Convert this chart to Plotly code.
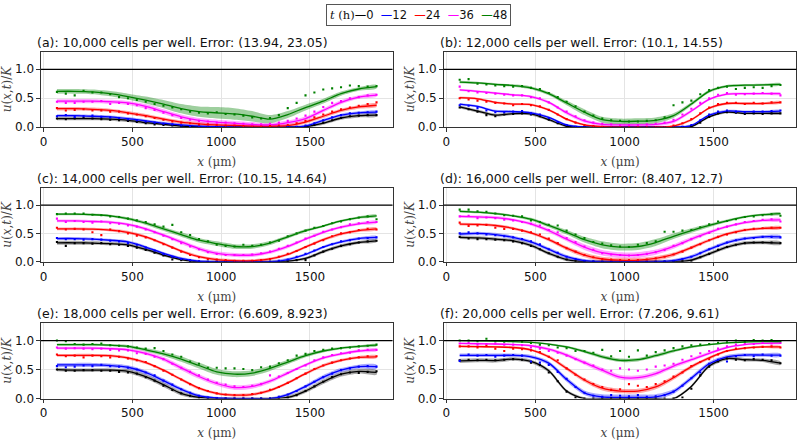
import numpy as np
import plotly.graph_objects as go
from plotly.subplots import make_subplots

# x positions (um): fitted curves every 100 um, measured densities every 50 um
X_LINE = [75, 175, 275, 375, 475, 575, 675, 775, 875, 975,
          1075, 1175, 1275, 1375, 1475, 1575, 1675, 1775, 1875]
X_DOTS = [75, 125, 175, 225, 275, 325, 375, 425, 475, 525,
          575, 625, 675, 725, 775, 825, 875, 925, 975, 1025,
          1075, 1125, 1175, 1225, 1275, 1325, 1375, 1425, 1475, 1525,
          1575, 1625, 1675, 1725, 1775, 1825, 1875]

TIMES = [0, 12, 24, 36, 48]
COLORS = {0: '#000000', 12: '#0000ff', 24: '#ff0000', 36: '#ff00ff', 48: '#008000'}
FILLS = {0: 'rgba(0,0,0,0.34)', 12: 'rgba(0,0,255,0.34)', 24: 'rgba(255,0,0,0.34)',
         36: 'rgba(255,0,255,0.34)', 48: 'rgba(0,128,0,0.38)'}

# ---- (a) 10,000 cells per well ----
a_lines = {
    0: [0.15, 0.15, 0.15, 0.14, 0.12, 0.08, 0.05, 0.02, 0.01, 0.0, 0.0, 0.0, 0.0, 0.0, 0.01, 0.07, 0.16, 0.20, 0.21],
    12: [0.20, 0.20, 0.19, 0.18, 0.15, 0.11, 0.07, 0.04, 0.02, 0.01, 0.005, 0.0, 0.0, 0.0, 0.02, 0.12, 0.21, 0.25, 0.26],
    24: [0.32, 0.32, 0.31, 0.29, 0.25, 0.20, 0.14, 0.09, 0.06, 0.04, 0.03, 0.02, 0.02, 0.03, 0.09, 0.19, 0.29, 0.35, 0.38],
    36: [0.45, 0.45, 0.45, 0.44, 0.42, 0.36, 0.27, 0.18, 0.12, 0.09, 0.07, 0.05, 0.04, 0.08, 0.15, 0.29, 0.43, 0.52, 0.555],
    48: [0.62, 0.62, 0.61, 0.58, 0.53, 0.47, 0.40, 0.32, 0.27, 0.25, 0.23, 0.19, 0.14, 0.22, 0.34, 0.45, 0.58, 0.66, 0.70],
}
a_dots = {
    0: [0.15, 0.14, 0.15, 0.16, 0.15, 0.14, 0.13, 0.12, 0.11, 0.09, 0.07, 0.05, 0.04, 0.03, 0.02, 0.01, 0.01, 0.0, 0.0, 0.0,
        0.0, 0.0, 0.0, 0.0, 0.0, 0.0, 0.0, 0.0, 0.01, 0.04, 0.08, 0.12, 0.16, 0.19, 0.20, 0.21, 0.21],
    12: [0.19, 0.21, 0.18, 0.19, 0.20, 0.18, 0.17, 0.16, 0.14, 0.12, 0.10, 0.08, 0.06, 0.05, 0.03, 0.02, 0.02, 0.01, 0.01, 0.01,
         0.0, 0.0, 0.0, 0.0, 0.0, 0.0, 0.01, 0.01, 0.03, 0.07, 0.12, 0.17, 0.21, 0.24, 0.25, 0.26, 0.27],
    24: [0.33, 0.29, 0.30, 0.31, 0.29, 0.29, 0.27, 0.27, 0.24, 0.22, 0.19, 0.16, 0.13, 0.10, 0.08, 0.07, 0.05, 0.05, 0.04, 0.03,
         0.03, 0.02, 0.02, 0.02, 0.02, 0.03, 0.04, 0.07, 0.11, 0.17, 0.22, 0.27, 0.31, 0.34, 0.37, 0.40, 0.43],
    36: [0.44, 0.42, 0.42, 0.44, 0.44, 0.45, 0.40, 0.42, 0.40, 0.38, 0.33, 0.30, 0.25, 0.21, 0.16, 0.13, 0.11, 0.10, 0.08, 0.08,
         0.07, 0.06, 0.05, 0.05, 0.06, 0.08, 0.11, 0.15, 0.20, 0.27, 0.35, 0.42, 0.45, 0.50, 0.52, 0.55, 0.56],
    48: [0.61, 0.58, 0.55, 0.63, 0.60, 0.60, 0.57, 0.52, 0.50, 0.47, 0.44, 0.40, 0.37, 0.34, 0.31, 0.27, 0.25, 0.24, 0.26, 0.23,
         0.22, 0.20, 0.17, 0.15, 0.16, 0.21, 0.33, 0.42, 0.55, 0.60, 0.65, 0.67, 0.69, 0.72, 0.71, 0.70, 0.71],
}
a_band = {
    0: [0.03, 0.03, 0.03, 0.03, 0.03, 0.03, 0.025, 0.02, 0.02, 0.02, 0.02, 0.02, 0.02, 0.02, 0.02, 0.025, 0.03, 0.03, 0.03],
    12: 0.025,
    24: 0.03,
    36: [0.035, 0.035, 0.035, 0.035, 0.035, 0.04, 0.04, 0.04, 0.04, 0.04, 0.04, 0.04, 0.035, 0.035, 0.035, 0.035, 0.035, 0.03, 0.03],
    48: [0.04, 0.04, 0.04, 0.045, 0.05, 0.06, 0.07, 0.08, 0.09, 0.1, 0.1, 0.09, 0.07, 0.06, 0.05, 0.04, 0.035, 0.03, 0.03],
}

# ---- (b) 12,000 cells per well ----
b_lines = {
    0: [0.35, 0.28, 0.21, 0.235, 0.23, 0.13, 0.02, 0.0, 0.0, 0.0, 0.0, 0.0, 0.0, 0.01, 0.18, 0.26, 0.24, 0.24, 0.24],
    12: [0.40, 0.36, 0.28, 0.27, 0.25, 0.17, 0.04, 0.0, 0.0, 0.0, 0.0, 0.0, 0.0, 0.03, 0.21, 0.28, 0.27, 0.27, 0.28],
    24: [0.51, 0.49, 0.43, 0.40, 0.39, 0.30, 0.14, 0.04, 0.01, 0.0, 0.0, 0.0, 0.02, 0.13, 0.33, 0.41, 0.41, 0.41, 0.43],
    36: [0.645, 0.62, 0.59, 0.56, 0.53, 0.43, 0.25, 0.11, 0.05, 0.04, 0.04, 0.05, 0.10, 0.28, 0.48, 0.57, 0.58, 0.58, 0.58],
    48: [0.78, 0.765, 0.74, 0.72, 0.68, 0.58, 0.42, 0.26, 0.13, 0.10, 0.105, 0.12, 0.20, 0.40, 0.62, 0.71, 0.725, 0.73, 0.74],
}
b_dots = {
    0: [0.34, 0.31, 0.27, 0.21, 0.19, 0.22, 0.23, 0.24, 0.22, 0.19, 0.13, 0.07, 0.02, 0.0, 0.0, 0.0, 0.0, 0.0, 0.0, 0.0,
        0.0, 0.0, 0.0, 0.0, 0.0, 0.0, 0.02, 0.08, 0.18, 0.24, 0.26, 0.25, 0.23, 0.24, 0.23, 0.24, 0.24],
    12: [0.38, 0.37, 0.33, 0.29, 0.26, 0.26, 0.27, 0.28, 0.24, 0.22, 0.16, 0.09, 0.04, 0.01, 0.0, 0.0, 0.0, 0.0, 0.0, 0.0,
         0.0, 0.0, 0.0, 0.0, 0.0, 0.01, 0.04, 0.12, 0.22, 0.27, 0.29, 0.27, 0.26, 0.27, 0.27, 0.28, 0.29],
    24: [0.50, 0.48, 0.46, 0.44, 0.42, 0.41, 0.38, 0.40, 0.38, 0.36, 0.30, 0.22, 0.14, 0.08, 0.04, 0.02, 0.01, 0.0, 0.0, 0.0,
         0.0, 0.0, 0.0, 0.0, 0.03, 0.07, 0.14, 0.24, 0.34, 0.40, 0.42, 0.42, 0.40, 0.42, 0.41, 0.43, 0.43],
    36: [0.70, 0.62, 0.60, 0.59, 0.58, 0.56, 0.55, 0.55, 0.52, 0.50, 0.43, 0.34, 0.27, 0.19, 0.12, 0.08, 0.06, 0.05, 0.04, 0.04,
         0.04, 0.05, 0.06, 0.08, 0.13, 0.22, 0.32, 0.42, 0.50, 0.56, 0.59, 0.56, 0.57, 0.58, 0.59, 0.58, 0.55],
    48: [0.82, 0.83, 0.75, 0.74, 0.72, 0.71, 0.70, 0.71, 0.68, 0.66, 0.59, 0.52, 0.44, 0.36, 0.27, 0.20, 0.15, 0.12, 0.11, 0.10,
         0.10, 0.11, 0.12, 0.17, 0.38, 0.43, 0.46, 0.57, 0.64, 0.68, 0.70, 0.66, 0.68, 0.69, 0.68, 0.71, 0.73],
}
b_band = {
    0: [0.025, 0.025, 0.025, 0.025, 0.025, 0.02, 0.02, 0.02, 0.02, 0.02, 0.02, 0.02, 0.02, 0.02, 0.02, 0.02, 0.02, 0.02, 0.02],
    12: 0.02,
    24: 0.02,
    36: [0.02, 0.02, 0.02, 0.02, 0.02, 0.025, 0.03, 0.03, 0.03, 0.03, 0.03, 0.03, 0.03, 0.025, 0.02, 0.02, 0.02, 0.02, 0.02],
    48: [0.02, 0.02, 0.02, 0.02, 0.025, 0.03, 0.04, 0.05, 0.05, 0.05, 0.05, 0.05, 0.04, 0.03, 0.025, 0.02, 0.02, 0.02, 0.02],
}

# ---- (c) 14,000 cells per well ----
c_lines = {
    0: [0.335, 0.335, 0.33, 0.32, 0.30, 0.22, 0.12, 0.04, 0.0, 0.0, 0.0, 0.0, 0.0, 0.01, 0.06, 0.18, 0.28, 0.34, 0.37],
    12: [0.41, 0.41, 0.40, 0.38, 0.35, 0.26, 0.15, 0.06, 0.01, 0.0, 0.0, 0.0, 0.0, 0.04, 0.13, 0.26, 0.35, 0.41, 0.43],
    24: [0.58, 0.58, 0.575, 0.56, 0.52, 0.44, 0.32, 0.19, 0.09, 0.04, 0.02, 0.02, 0.05, 0.13, 0.26, 0.39, 0.49, 0.55, 0.58],
    36: [0.72, 0.72, 0.71, 0.70, 0.66, 0.58, 0.47, 0.35, 0.23, 0.15, 0.12, 0.12, 0.17, 0.27, 0.40, 0.52, 0.61, 0.67, 0.70],
    48: [0.84, 0.84, 0.83, 0.81, 0.76, 0.68, 0.58, 0.48, 0.38, 0.32, 0.27, 0.27, 0.33, 0.44, 0.55, 0.63, 0.72, 0.78, 0.81],
}
c_dots = {
    0: [0.35, 0.28, 0.33, 0.33, 0.32, 0.33, 0.31, 0.30, 0.28, 0.25, 0.21, 0.16, 0.11, 0.04, 0.03, 0.01, 0.0, 0.0, 0.0, 0.0,
        0.0, 0.0, 0.0, 0.0, 0.0, 0.0, 0.01, 0.03, 0.03, 0.11, 0.18, 0.23, 0.28, 0.31, 0.34, 0.36, 0.37],
    12: [0.42, 0.40, 0.40, 0.39, 0.40, 0.39, 0.37, 0.36, 0.33, 0.30, 0.25, 0.20, 0.14, 0.09, 0.05, 0.03, 0.01, 0.0, 0.0, 0.0,
         0.0, 0.0, 0.0, 0.0, 0.0, 0.02, 0.04, 0.09, 0.14, 0.20, 0.26, 0.31, 0.36, 0.38, 0.41, 0.42, 0.43],
    24: [0.60, 0.57, 0.58, 0.57, 0.52, 0.47, 0.57, 0.54, 0.50, 0.46, 0.43, 0.38, 0.31, 0.25, 0.18, 0.12, 0.08, 0.05, 0.04, 0.03,
         0.02, 0.02, 0.02, 0.03, 0.05, 0.09, 0.14, 0.19, 0.26, 0.32, 0.38, 0.45, 0.50, 0.52, 0.56, 0.58, 0.57],
    36: [0.76, 0.70, 0.72, 0.70, 0.69, 0.71, 0.68, 0.67, 0.64, 0.62, 0.57, 0.52, 0.46, 0.40, 0.33, 0.27, 0.22, 0.17, 0.14, 0.12,
         0.12, 0.12, 0.13, 0.15, 0.18, 0.23, 0.28, 0.34, 0.41, 0.46, 0.53, 0.57, 0.61, 0.66, 0.68, 0.70, 0.70],
    48: [0.84, 0.85, 0.85, 0.85, 0.83, 0.82, 0.80, 0.79, 0.76, 0.73, 0.70, 0.66, 0.62, 0.65, 0.52, 0.47, 0.40, 0.36, 0.30, 0.28,
         0.27, 0.30, 0.28, 0.30, 0.34, 0.37, 0.45, 0.50, 0.55, 0.60, 0.63, 0.68, 0.71, 0.75, 0.78, 0.80, 0.75],
}
c_band = {
    0: [0.035, 0.035, 0.03, 0.03, 0.03, 0.03, 0.025, 0.02, 0.02, 0.02, 0.02, 0.02, 0.02, 0.02, 0.025, 0.03, 0.03, 0.025, 0.025],
    12: 0.025,
    24: 0.025,
    36: [0.025, 0.025, 0.025, 0.025, 0.025, 0.03, 0.03, 0.035, 0.035, 0.035, 0.035, 0.035, 0.03, 0.03, 0.025, 0.025, 0.025, 0.025, 0.025],
    48: [0.02, 0.02, 0.02, 0.02, 0.025, 0.03, 0.035, 0.04, 0.04, 0.04, 0.04, 0.04, 0.035, 0.03, 0.025, 0.02, 0.02, 0.02, 0.02],
}

# ---- (d) 16,000 cells per well ----
d_lines = {
    0: [0.43, 0.42, 0.40, 0.37, 0.29, 0.15, 0.04, 0.0, 0.0, 0.0, 0.0, 0.0, 0.0, 0.03, 0.14, 0.26, 0.33, 0.34, 0.33],
    12: [0.49, 0.50, 0.48, 0.43, 0.35, 0.22, 0.09, 0.02, 0.0, 0.0, 0.0, 0.0, 0.02, 0.09, 0.22, 0.34, 0.41, 0.44, 0.44],
    24: [0.665, 0.66, 0.64, 0.59, 0.51, 0.39, 0.24, 0.12, 0.05, 0.03, 0.03, 0.06, 0.13, 0.25, 0.38, 0.49, 0.56, 0.59, 0.60],
    36: [0.80, 0.79, 0.78, 0.74, 0.67, 0.55, 0.40, 0.26, 0.16, 0.12, 0.12, 0.17, 0.27, 0.40, 0.52, 0.62, 0.69, 0.73, 0.74],
    48: [0.89, 0.875, 0.85, 0.81, 0.75, 0.64, 0.52, 0.39, 0.30, 0.26, 0.27, 0.34, 0.45, 0.55, 0.64, 0.72, 0.79, 0.83, 0.85],
}
d_dots = {
    0: [0.44, 0.41, 0.40, 0.40, 0.39, 0.38, 0.36, 0.33, 0.28, 0.22, 0.15, 0.09, 0.04, 0.01, 0.0, 0.0, 0.0, 0.0, 0.0, 0.0,
        0.0, 0.0, 0.0, 0.0, 0.0, 0.01, 0.02, 0.08, 0.14, 0.21, 0.26, 0.30, 0.33, 0.34, 0.34, 0.34, 0.33],
    12: [0.50, 0.52, 0.50, 0.48, 0.47, 0.45, 0.43, 0.40, 0.36, 0.31, 0.22, 0.16, 0.09, 0.05, 0.02, 0.01, 0.0, 0.0, 0.0, 0.0,
         0.0, 0.0, 0.0, 0.01, 0.02, 0.05, 0.09, 0.15, 0.22, 0.28, 0.34, 0.38, 0.41, 0.42, 0.44, 0.44, 0.43],
    24: [0.69, 0.63, 0.64, 0.65, 0.60, 0.58, 0.58, 0.55, 0.52, 0.48, 0.41, 0.33, 0.24, 0.18, 0.12, 0.08, 0.05, 0.04, 0.03, 0.03,
         0.03, 0.04, 0.06, 0.09, 0.13, 0.18, 0.25, 0.31, 0.38, 0.44, 0.48, 0.52, 0.56, 0.58, 0.59, 0.60, 0.60],
    36: [0.80, 0.81, 0.77, 0.78, 0.77, 0.74, 0.73, 0.70, 0.67, 0.64, 0.56, 0.52, 0.42, 0.35, 0.27, 0.21, 0.15, 0.13, 0.12, 0.11,
         0.12, 0.14, 0.17, 0.21, 0.28, 0.33, 0.40, 0.45, 0.51, 0.58, 0.62, 0.66, 0.70, 0.72, 0.74, 0.75, 0.71],
    48: [0.92, 0.92, 0.89, 0.88, 0.85, 0.82, 0.81, 0.80, 0.73, 0.70, 0.65, 0.64, 0.55, 0.48, 0.42, 0.35, 0.32, 0.29, 0.27, 0.26,
         0.30, 0.33, 0.36, 0.53, 0.53, 0.55, 0.56, 0.61, 0.66, 0.71, 0.72, 0.75, 0.79, 0.80, 0.82, 0.84, 0.81],
}
d_band = {
    0: 0.03,
    12: 0.03,
    24: [0.025, 0.025, 0.025, 0.025, 0.025, 0.03, 0.035, 0.04, 0.04, 0.04, 0.04, 0.04, 0.035, 0.03, 0.025, 0.025, 0.025, 0.025, 0.025],
    36: [0.025, 0.025, 0.025, 0.025, 0.03, 0.035, 0.04, 0.05, 0.05, 0.05, 0.05, 0.045, 0.04, 0.035, 0.03, 0.025, 0.025, 0.025, 0.025],
    48: [0.02, 0.02, 0.02, 0.02, 0.025, 0.03, 0.04, 0.05, 0.06, 0.06, 0.06, 0.06, 0.05, 0.04, 0.03, 0.025, 0.02, 0.02, 0.02],
}

# ---- (e) 18,000 cells per well ----
e_lines = {
    0: [0.50, 0.49, 0.49, 0.49, 0.47, 0.38, 0.24, 0.09, 0.02, 0.0, 0.0, 0.0, 0.0, 0.02, 0.13, 0.29, 0.42, 0.47, 0.45],
    12: [0.58, 0.58, 0.58, 0.57, 0.54, 0.45, 0.31, 0.16, 0.05, 0.01, 0.0, 0.0, 0.0, 0.07, 0.21, 0.37, 0.49, 0.55, 0.55],
    24: [0.745, 0.745, 0.745, 0.74, 0.70, 0.62, 0.49, 0.33, 0.18, 0.09, 0.06, 0.07, 0.14, 0.27, 0.43, 0.57, 0.66, 0.71, 0.72],
    36: [0.87, 0.87, 0.87, 0.86, 0.84, 0.78, 0.68, 0.53, 0.38, 0.26, 0.19, 0.21, 0.30, 0.44, 0.58, 0.70, 0.77, 0.82, 0.84],
    48: [0.93, 0.93, 0.93, 0.92, 0.90, 0.84, 0.77, 0.68, 0.57, 0.46, 0.42, 0.44, 0.52, 0.63, 0.74, 0.82, 0.87, 0.90, 0.92],
}
e_dots = {
    0: [0.50, 0.48, 0.48, 0.49, 0.49, 0.48, 0.48, 0.46, 0.45, 0.43, 0.37, 0.31, 0.22, 0.15, 0.09, 0.05, 0.02, 0.0, 0.0, 0.0,
        0.0, 0.0, 0.0, 0.0, 0.0, 0.0, 0.02, 0.06, 0.13, 0.21, 0.29, 0.37, 0.42, 0.45, 0.44, 0.46, 0.47],
    12: [0.56, 0.54, 0.55, 0.57, 0.56, 0.58, 0.56, 0.55, 0.53, 0.50, 0.45, 0.40, 0.31, 0.24, 0.16, 0.10, 0.05, 0.02, 0.01, 0.0,
         0.0, 0.0, 0.0, 0.0, 0.0, 0.03, 0.07, 0.13, 0.21, 0.29, 0.37, 0.43, 0.49, 0.52, 0.55, 0.56, 0.55],
    24: [0.76, 0.73, 0.74, 0.71, 0.74, 0.73, 0.71, 0.72, 0.69, 0.66, 0.63, 0.56, 0.48, 0.41, 0.33, 0.25, 0.18, 0.13, 0.09, 0.07,
         0.06, 0.06, 0.08, 0.10, 0.15, 0.20, 0.27, 0.35, 0.43, 0.51, 0.57, 0.62, 0.66, 0.69, 0.71, 0.73, 0.73],
    36: [0.88, 0.86, 0.87, 0.86, 0.85, 0.86, 0.84, 0.83, 0.83, 0.78, 0.77, 0.72, 0.68, 0.60, 0.53, 0.46, 0.40, 0.33, 0.27, 0.24,
         0.21, 0.20, 0.22, 0.25, 0.40, 0.38, 0.44, 0.51, 0.57, 0.66, 0.71, 0.75, 0.78, 0.79, 0.83, 0.84, 0.84],
    48: [1.0, 0.99, 0.94, 0.93, 0.94, 0.95, 0.92, 0.91, 0.90, 0.88, 0.86, 0.87, 0.82, 0.76, 0.72, 0.64, 0.60, 0.53, 0.53, 0.52,
         0.52, 0.51, 0.49, 0.54, 0.55, 0.61, 0.66, 0.74, 0.77, 0.82, 0.84, 0.86, 0.87, 0.88, 0.90, 0.91, 0.93],
}
e_band = {
    0: [0.03, 0.03, 0.03, 0.03, 0.035, 0.04, 0.04, 0.035, 0.03, 0.02, 0.02, 0.02, 0.02, 0.03, 0.035, 0.04, 0.04, 0.04, 0.04],
    12: [0.035, 0.035, 0.035, 0.035, 0.035, 0.035, 0.035, 0.03, 0.025, 0.02, 0.02, 0.02, 0.02, 0.025, 0.03, 0.035, 0.035, 0.035, 0.035],
    24: 0.025,
    36: [0.025, 0.025, 0.025, 0.025, 0.025, 0.03, 0.035, 0.04, 0.04, 0.04, 0.04, 0.04, 0.035, 0.03, 0.025, 0.025, 0.025, 0.025, 0.025],
    48: [0.02, 0.02, 0.02, 0.02, 0.025, 0.03, 0.035, 0.045, 0.05, 0.05, 0.05, 0.05, 0.045, 0.04, 0.03, 0.025, 0.02, 0.02, 0.02],
}

# ---- (f) 20,000 cells per well ----
f_lines = {
    0: [0.65, 0.66, 0.655, 0.68, 0.64, 0.48, 0.13, 0.0, 0.0, 0.0, 0.0, 0.0, 0.0, 0.21, 0.56, 0.69, 0.67, 0.66, 0.61],
    12: [0.745, 0.745, 0.745, 0.745, 0.72, 0.61, 0.33, 0.10, 0.03, 0.02, 0.02, 0.03, 0.12, 0.35, 0.60, 0.72, 0.75, 0.75, 0.75],
    24: [0.90, 0.895, 0.89, 0.88, 0.84, 0.72, 0.52, 0.32, 0.18, 0.13, 0.13, 0.20, 0.36, 0.55, 0.70, 0.82, 0.87, 0.89, 0.89],
    36: [0.95, 0.945, 0.94, 0.93, 0.91, 0.85, 0.75, 0.62, 0.49, 0.37, 0.36, 0.43, 0.56, 0.67, 0.78, 0.88, 0.93, 0.95, 0.955],
    48: [1.0, 0.995, 0.99, 0.98, 0.97, 0.94, 0.89, 0.81, 0.72, 0.66, 0.67, 0.74, 0.82, 0.89, 0.93, 0.96, 0.975, 0.98, 0.98],
}
f_dots = {
    0: [0.66, 0.67, 0.66, 0.67, 0.66, 0.67, 0.68, 0.67, 0.62, 0.58, 0.45, 0.30, 0.12, 0.02, 0.0, 0.0, 0.0, 0.0, 0.0, 0.0,
        0.0, 0.0, 0.0, 0.0, 0.0, 0.02, 0.17, 0.40, 0.55, 0.64, 0.69, 0.67, 0.66, 0.68, 0.67, 0.66, 0.61],
    12: [0.65, 0.76, 0.74, 0.75, 0.72, 0.74, 0.75, 0.74, 0.64, 0.62, 0.58, 0.46, 0.34, 0.20, 0.10, 0.05, 0.03, 0.06, 0.05, 0.04,
         0.06, 0.03, 0.04, 0.06, 0.12, 0.22, 0.35, 0.45, 0.60, 0.67, 0.64, 0.73, 0.75, 0.73, 0.76, 0.74, 0.74],
    24: [0.90, 0.90, 0.88, 0.91, 0.86, 0.82, 0.86, 0.85, 0.83, 0.80, 0.72, 0.66, 0.52, 0.41, 0.33, 0.25, 0.20, 0.15, 0.16, 0.25,
         0.22, 0.20, 0.25, 0.30, 0.38, 0.45, 0.56, 0.63, 0.68, 0.76, 0.82, 0.86, 0.87, 0.88, 0.89, 0.90, 0.88],
    36: [0.95, 0.96, 0.93, 0.94, 0.95, 0.93, 0.93, 0.92, 0.88, 0.86, 0.82, 0.79, 0.74, 0.68, 0.62, 0.57, 0.50, 0.48, 0.52, 0.50,
         0.48, 0.50, 0.55, 0.57, 0.60, 0.67, 0.73, 0.78, 0.82, 0.86, 0.90, 0.93, 0.94, 0.94, 0.96, 0.95, 0.96],
    48: [1.0, 1.0, 0.99, 1.03, 0.99, 0.98, 0.99, 0.98, 0.96, 0.93, 0.92, 0.88, 0.87, 0.82, 0.82, 0.79, 0.84, 0.73, 0.82, 0.72,
         0.83, 0.74, 0.80, 0.83, 0.87, 0.90, 0.92, 0.93, 0.94, 0.96, 0.97, 1.0, 0.98, 1.01, 1.0, 1.01, 0.99],
}
f_band = {
    0: [0.035, 0.035, 0.035, 0.03, 0.03, 0.03, 0.025, 0.02, 0.02, 0.02, 0.02, 0.02, 0.02, 0.025, 0.03, 0.03, 0.03, 0.03, 0.03],
    12: [0.03, 0.03, 0.03, 0.03, 0.03, 0.035, 0.04, 0.04, 0.045, 0.05, 0.05, 0.045, 0.04, 0.04, 0.035, 0.03, 0.03, 0.03, 0.03],
    24: [0.02, 0.02, 0.02, 0.02, 0.02, 0.025, 0.03, 0.035, 0.04, 0.04, 0.04, 0.04, 0.035, 0.03, 0.025, 0.02, 0.02, 0.02, 0.02],
    36: [0.015, 0.015, 0.015, 0.015, 0.02, 0.025, 0.03, 0.035, 0.04, 0.04, 0.04, 0.04, 0.035, 0.03, 0.025, 0.02, 0.015, 0.015, 0.015],
    48: [0.01, 0.01, 0.01, 0.01, 0.01, 0.015, 0.02, 0.025, 0.03, 0.03, 0.03, 0.03, 0.025, 0.02, 0.015, 0.01, 0.01, 0.01, 0.01],
}

PANELS = [
    ("(a): 10,000 cells per well. Error: (13.94, 23.05)", a_lines, a_dots, a_band),
    ("(b): 12,000 cells per well. Error: (10.1, 14.55)", b_lines, b_dots, b_band),
    ("(c): 14,000 cells per well. Error: (10.15, 14.64)", c_lines, c_dots, c_band),
    ("(d): 16,000 cells per well. Error: (8.407, 12.7)", d_lines, d_dots, d_band),
    ("(e): 18,000 cells per well. Error: (6.609, 8.923)", e_lines, e_dots, e_band),
    ("(f): 20,000 cells per well. Error: (7.206, 9.61)", f_lines, f_dots, f_band),
]

# panel placement (paper fractions of the 800x443 page)
X_DOMAINS = [[0.05, 0.49], [0.554, 0.9956]]
Y_DOMAINS = [[0.7081, 0.8810], [0.3995, 0.5688], [0.0858, 0.2589]]

TICK_FONT = dict(family='DejaVu Sans', size=12, color='#111')
LABEL_FONT = dict(family='DejaVu Serif', size=12, color='#444')

fig = make_subplots(rows=3, cols=2)
x_line = np.array(X_LINE, dtype=float)

for i, (title, lines, dots, band) in enumerate(PANELS):
    r, c = i // 2 + 1, i % 2 + 1
    # uncertainty bands
    for t in TIMES:
        y = np.array(lines[t], dtype=float)
        hw = np.broadcast_to(np.asarray(band[t], dtype=float), y.shape)
        xs = np.concatenate([x_line, x_line[::-1]])
        ys = np.concatenate([y + hw, (y - hw)[::-1]])
        fig.add_trace(go.Scatter(x=xs, y=ys, fill='toself', fillcolor=FILLS[t],
                                 line=dict(width=0, shape='spline', smoothing=0.8),
                                 mode='lines', hoverinfo='skip', showlegend=False), row=r, col=c)
    # fitted curves
    for t in TIMES:
        fig.add_trace(go.Scatter(x=X_LINE, y=lines[t], mode='lines',
                                 line=dict(color=COLORS[t], width=1.3, shape='spline', smoothing=0.8),
                                 showlegend=False), row=r, col=c)
    # measured densities
    for t in TIMES:
        fig.add_trace(go.Scatter(x=X_DOTS, y=dots[t], mode='markers',
                                 marker=dict(color=COLORS[t], size=2.1, symbol='square', line=dict(width=0)),
                                 showlegend=False), row=r, col=c)
    fig.add_hline(y=1, line_color='black', line_width=1.2, row=r, col=c)

    n = '' if i == 0 else str(i + 1)
    xd, yd = X_DOMAINS[c - 1], Y_DOMAINS[r - 1]
    fig.layout['xaxis' + n].update(
        domain=xd, range=[-15, 1965], tickvals=[0, 500, 1000, 1500],
        ticks='outside', ticklen=3.5, tickcolor='#333', tickfont=TICK_FONT,
        showline=True, mirror=True, linecolor='#333', linewidth=1,
        showgrid=True, gridcolor='#e4e4e4', gridwidth=1, zeroline=False,
        title=dict(text='<i>x</i> (μm)', font=LABEL_FONT, standoff=9))
    fig.layout['yaxis' + n].update(
        domain=yd, range=[0, 1.3], tickvals=[0, 0.5, 1.0], tickformat='.1f',
        ticks='outside', ticklen=3.5, tickcolor='#333', tickfont=TICK_FONT,
        showline=True, mirror=True, linecolor='#333', linewidth=1,
        showgrid=True, gridcolor='#e4e4e4', gridwidth=1, zeroline=False,
        title=dict(text='<i>u</i>(<i>x</i>,<i>t</i>)/<i>K</i>', font=LABEL_FONT, standoff=0))
    fig.add_annotation(text=title, xref='paper', yref='paper', x=xd[0], y=yd[1],
                       xanchor='left', yanchor='bottom', yshift=0, xshift=-6, showarrow=False,
                       font=dict(family='DejaVu Sans', size=12.5, color='#111'))

# legend drawn as a boxed text line
legend_parts = ['<span style="font-family:DejaVu Serif"><i>t</i> (h)</span>']
for t in TIMES:
    legend_parts.append('<span style="color:%s">—</span>%d' % (COLORS[t], t))
legend_text = legend_parts[0] + '\u00a0\u00a0'.join(legend_parts[1:])
fig.add_annotation(text=legend_text, xref='paper', yref='paper', x=0.523, y=0.966,
                   xanchor='center', yanchor='middle', showarrow=False,
                   font=dict(family='DejaVu Sans', size=11.5, color='#111'),
                   bordercolor='#555', borderwidth=1, borderpad=3, bgcolor='white')

fig.update_layout(width=800, height=443, margin=dict(l=0, r=0, t=0, b=0),
                  paper_bgcolor='white', plot_bgcolor='white', showlegend=False)

# drop the default page margin so the 800x443 figure sits at the window origin
fig.write_html("out.html", config={'displayModeBar': False},
               post_script="document.body.style.margin='0px';")
